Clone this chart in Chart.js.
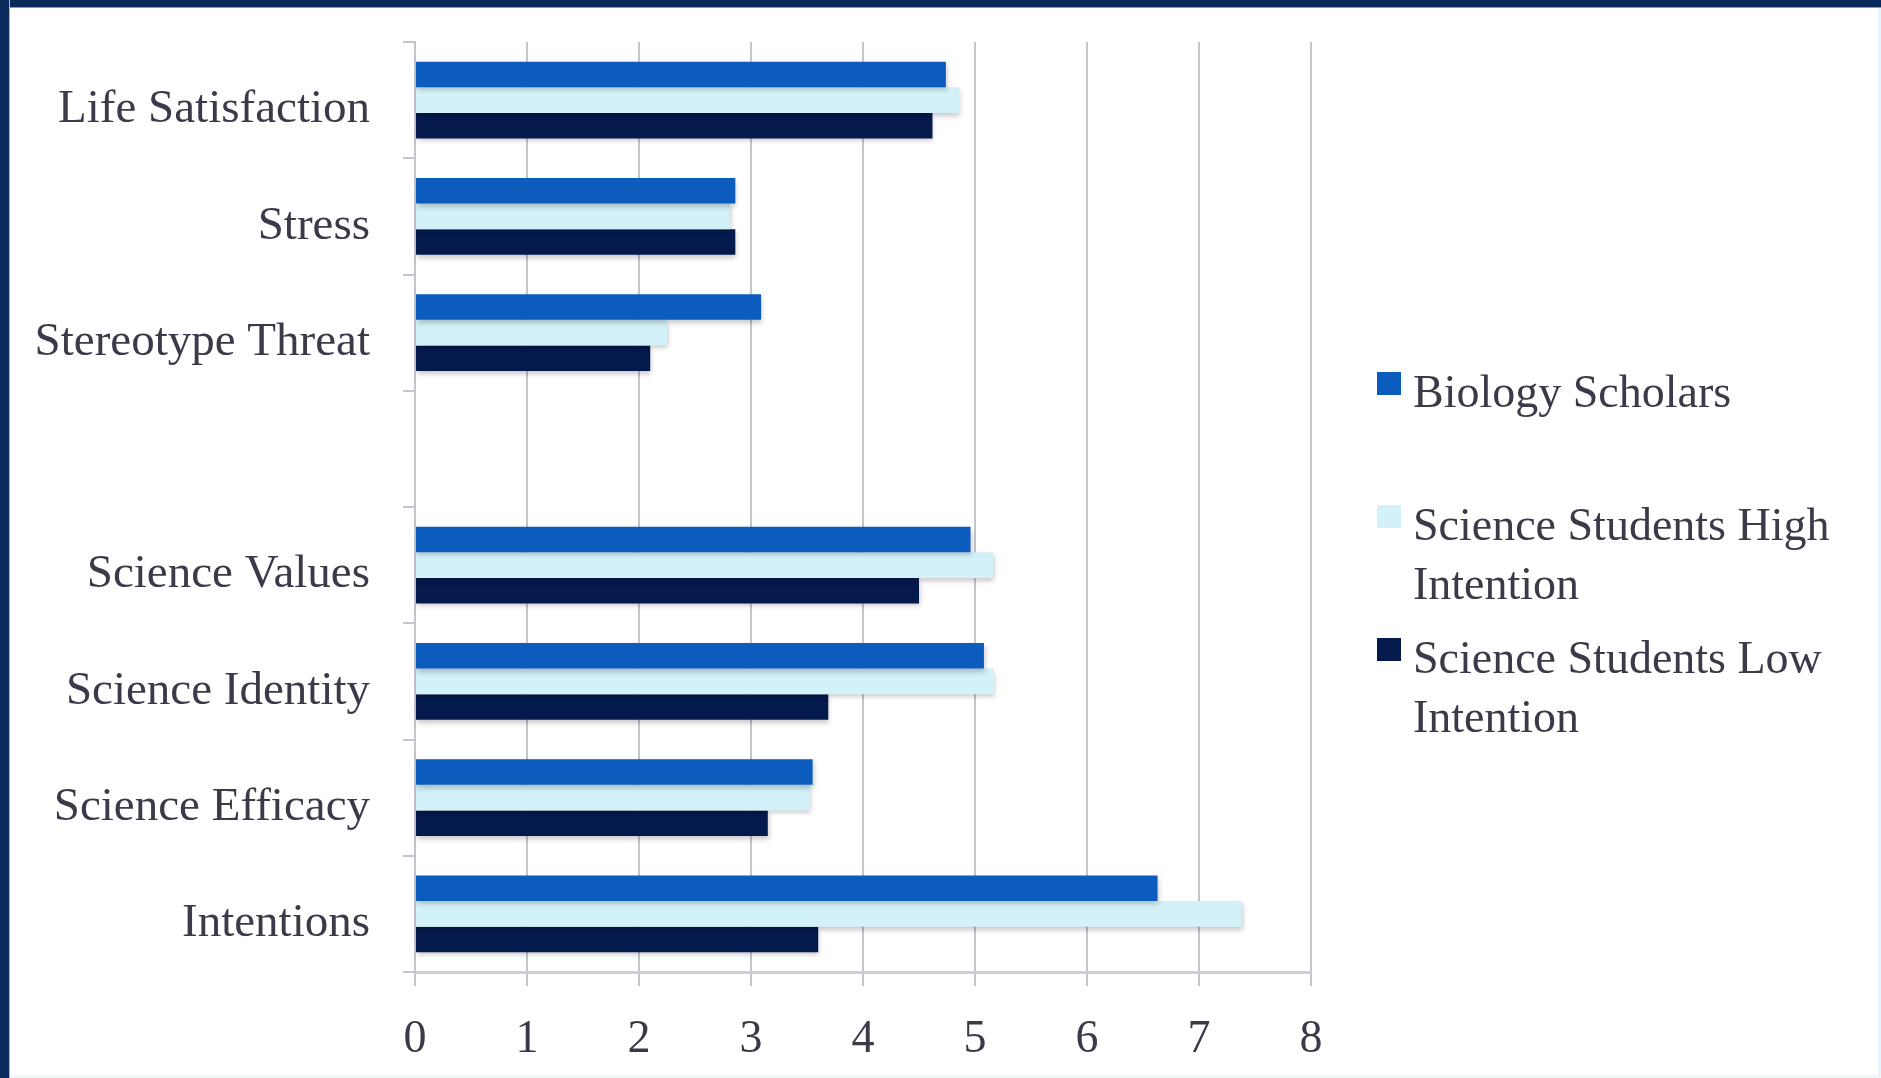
<!DOCTYPE html>
<html>
<head>
<meta charset="utf-8">
<title>Scholars vs Science Students</title>
<script src="https://cdn.jsdelivr.net/npm/chart.js@4.4.1/dist/chart.umd.min.js"></script>
<style>
  html, body { margin: 0; padding: 0; background: #fff; }
  #wrap { position: relative; width: 1881px; height: 1078px; overflow: hidden; background: #fff; }
  #grafico { position: absolute; left: 0; top: 0; }
  .frame-top { position: absolute; left: 0; top: 0; width: 1881px; height: 7px; background: #0a2a5c; border-bottom: 1px solid #7f9cc0; }
  .frame-left { position: absolute; left: 0; top: 0; width: 9px; height: 1078px; background: #0a2a5c; border-right: 1px solid #9fb6d2; }
  .frame-right { position: absolute; right: 0; top: 0; width: 3px; height: 1078px; background: #e6f5fa; }
  .frame-bottom { position: absolute; left: 0; bottom: 0; width: 1881px; height: 3px; background: #eef8fb; }
  #legenda { position: absolute; left: 0; top: 0; }
  .item { position: absolute; left: 1377px; display: flex; align-items: flex-start; }
  .item .box { width: 24px; height: 23px; margin-top: 10px; flex: none; }
  .item .txt {
    margin-left: 12px; width: 450px;
    font-family: 'Liberation Serif', 'Times New Roman', serif;
    font-size: 46px; line-height: 59px; color: #3a3a48;
  }
</style>
</head>
<body>
<div id="wrap">
  <canvas id="grafico" width="1881" height="1078"></canvas>
  <div id="legenda"></div>
  <div class="frame-right"></div>
  <div class="frame-bottom"></div>
  <div class="frame-top"></div>
  <div class="frame-left"></div>
</div>
<script>
// categorias de cima para baixo (a vazia é o espaço entre os dois blocos)
const categorias = [
  'Life Satisfaction',
  'Stress',
  'Stereotype Threat',
  '',
  'Science Values',
  'Science Identity',
  'Science Efficacy',
  'Intentions',
];

const nomesSeries = [
  'Biology Scholars',
  'Science Students High Intention',
  'Science Students Low Intention',
];

const biologyScholars = [4.74, 2.86, 3.09, null, 4.96, 5.08, 3.55, 6.63];
const highIntention   = [4.86, 2.81, 2.25, null, 5.16, 5.17, 3.53, 7.38];
const lowIntention    = [4.62, 2.86, 2.10, null, 4.50, 3.69, 3.15, 3.60];

const ticksX = [0, 1, 2, 3, 4, 5, 6, 7, 8];

const coresSeries = ['#0b5cbd', '#d3f1f8', '#04194c'];

const corTexto = '#3a3a48';
const corGrade = '#c4c4cc';
const fonteSerif = "'Liberation Serif', 'Times New Roman', serif";

// sombra suave embaixo das barras
const sombraBarras = {
  id: 'sombraBarras',
  beforeDatasetsDraw(chart) {
    const ctx = chart.ctx;
    ctx.save();
    ctx.shadowColor = 'rgba(0, 0, 0, 0.22)';
    ctx.shadowBlur = 5;
    ctx.shadowOffsetX = 1;
    ctx.shadowOffsetY = 3;
  },
  afterDatasetsDraw(chart) {
    chart.ctx.restore();
  },
};

function montarGrafico() {
  const canvas = document.getElementById('grafico');
  const ctx = canvas.getContext('2d');

  const series = [biologyScholars, highIntention, lowIntention];

  const chart = new Chart(ctx, {
    type: 'bar',
    data: {
      labels: categorias,
      datasets: series.map((valores, i) => ({
        label: nomesSeries[i],
        data: valores,
        backgroundColor: coresSeries[i],
        borderWidth: 0,
        categoryPercentage: 0.66,
        barPercentage: 1.0,
      })),
    },
    options: {
      indexAxis: 'y',
      responsive: false,
      animation: false,
      devicePixelRatio: 1,
      layout: {
        padding: { top: 42, right: 570, left: 0, bottom: 0 },
      },
      plugins: {
        legend: { display: false },
        tooltip: { enabled: false },
      },
      scales: {
        x: {
          min: 0,
          max: 8,
          afterBuildTicks: (scale) => {
            scale.ticks = ticksX.map((v) => ({ value: v }));
          },
          afterFit: (scale) => { scale.height = 106; },
          grid: {
            color: corGrade,
            lineWidth: 2,
            drawTicks: true,
            tickLength: 14,
            tickColor: corGrade,
          },
          border: { display: true, color: '#cdcdd2', width: 3 },
          ticks: {
            padding: 26,
            color: corTexto,
            font: { family: fonteSerif, size: 46 },
          },
        },
        y: {
          afterFit: (scale) => {
            scale.width = 415;
            // sem margem extra em cima/embaixo por causa do rótulo
            scale.paddingTop = 0;
            scale.paddingBottom = 0;
          },
          grid: {
            drawOnChartArea: false,
            drawTicks: true,
            tickLength: 12,
            tickColor: corGrade,
            lineWidth: 2,
            offset: true,
          },
          border: { display: true, color: corGrade, width: 2 },
          ticks: {
            padding: 33,
            labelOffset: 10,
            color: corTexto,
            font: { family: fonteSerif, size: 47 },
          },
        },
      },
    },
    plugins: [sombraBarras],
  });

  montarLegenda(chart);
}

// legenda em HTML, porque os nomes longos quebram em duas linhas
function montarLegenda(chart) {
  const el = document.getElementById('legenda');
  chart.data.datasets.forEach((ds, i) => {
    const item = document.createElement('div');
    item.className = 'item';
    item.style.top = (362 + i * 133) + 'px';

    const box = document.createElement('span');
    box.className = 'box';
    box.style.background = ds.backgroundColor;

    const txt = document.createElement('span');
    txt.className = 'txt';
    txt.textContent = ds.label;

    item.appendChild(box);
    item.appendChild(txt);
    el.appendChild(item);
  });
}

document.addEventListener('DOMContentLoaded', montarGrafico);
</script>
</body>
</html>
